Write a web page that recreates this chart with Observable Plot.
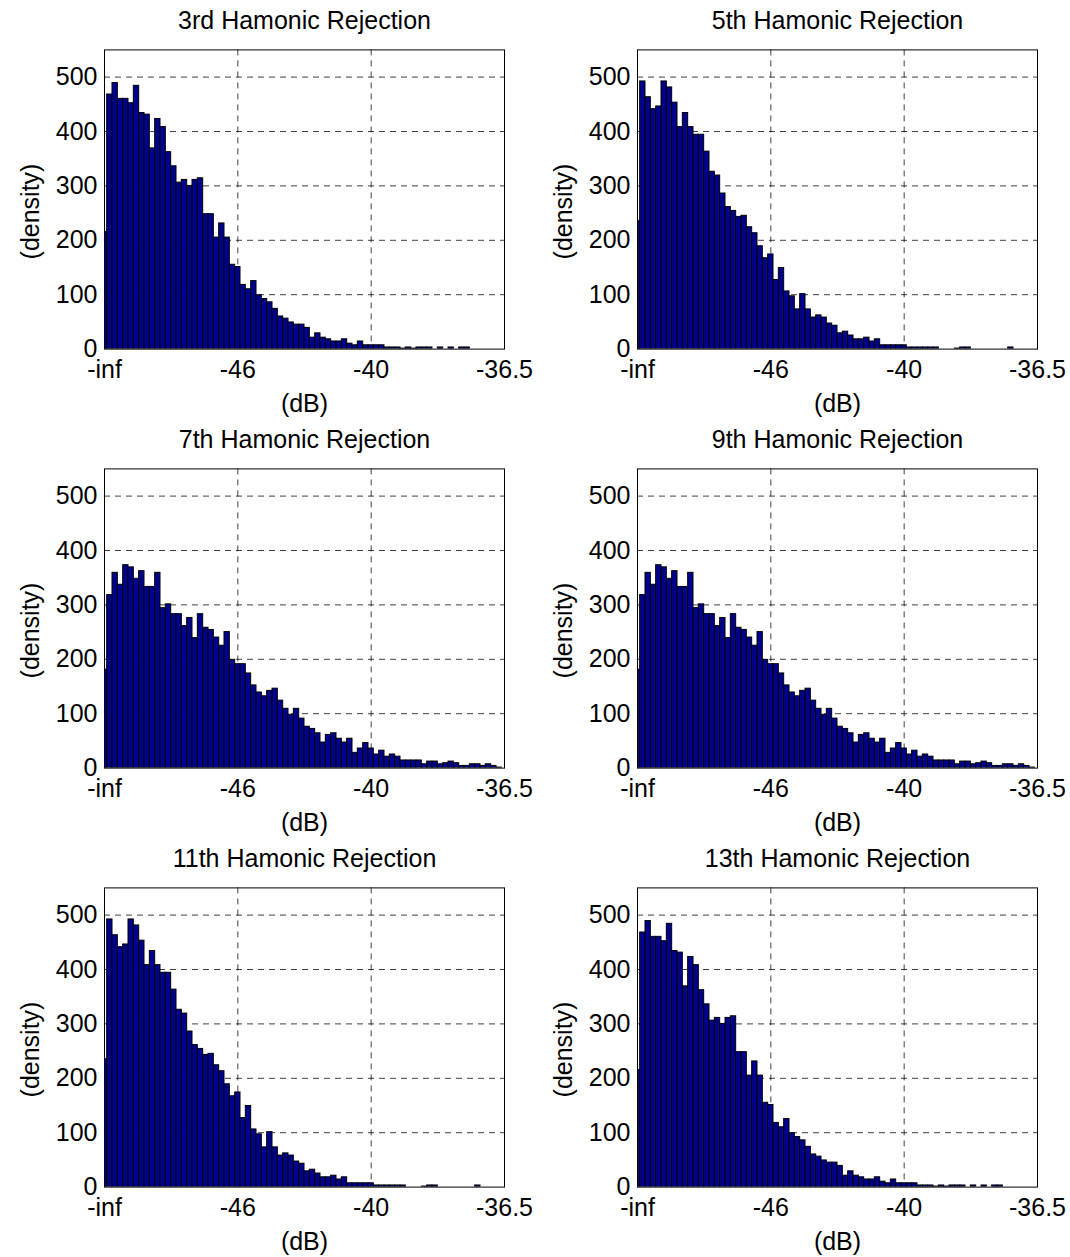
<!DOCTYPE html>
<html><head><meta charset="utf-8">
<script src="https://cdn.jsdelivr.net/npm/d3@7"></script>
<script src="https://cdn.jsdelivr.net/npm/@observablehq/plot@0.6"></script>
<style>
body{margin:0;background:#fff;}
#wrap{position:relative;width:1070px;height:1257px;background:#fff;}
#wrap svg{position:absolute;}
</style></head><body><div id="wrap"></div>
<script>
// Histogram densities per bin (76 bins, bin 0 = -inf ... bin 75 = -36.5 dB)
const harm3 = [215,468,489,460,460,452,484,434,431,369,423,408,362,336,306,311,300,311,314,248,
  248,205,231,205,155,151,118,110,125,99,92,86,74,60,56,49,45,45,39,21,
  29,21,18,14,14,18,10,7,14,7,7,7,7,3,3,3,1,3,1,3,
  3,3,0,3,0,3,0,3,3,0,0,0,0,0,0,0];
const harm5 = [235,492,463,441,446,492,481,453,408,434,408,394,394,363,326,319,286,261,254,243,
  245,224,213,189,167,174,127,149,106,97,73,101,73,58,62,58,47,43,29,32,
  25,18,18,21,14,18,7,7,7,7,7,3,3,3,3,3,3,0,0,0,
  1,3,3,0,0,0,0,0,0,0,3,0,0,0,0,0];
const harm7 = [181,318,359,337,373,369,348,362,333,333,359,294,301,283,283,261,276,239,283,258,
  254,240,225,250,199,191,191,174,152,139,132,142,146,124,109,98,109,91,76,72,
  64,47,61,64,54,47,54,28,36,46,36,25,32,21,25,21,14,14,14,14,
  7,12,12,7,9,12,9,4,4,7,7,4,7,4,1,0];
const harm9 = harm7.slice();
const harm11 = harm5.slice();
const harm13 = harm3.slice();

const titles = ["3rd Hamonic Rejection","5th Hamonic Rejection","7th Hamonic Rejection",
                "9th Hamonic Rejection","11th Hamonic Rejection","13th Hamonic Rejection"];
const series = [harm3, harm5, harm7, harm9, harm11, harm13];
const xTickValues = [0, 25, 50, 75];
const xTickLabels = ["-inf", "-46", "-40", "-36.5"];
const yTicks = [0, 100, 200, 300, 400, 500];
const xLabel = "(dB)";
const yLabel = "(density)";

const wrap = document.getElementById("wrap");
const FONT = "'Liberation Sans', Arial, Helvetica, sans-serif";
const FS = 25;

series.forEach((vals, k) => {
  const col = k % 2, row = Math.floor(k / 2);
  const data = vals.map((v, i) => ({bin: i, v}));
  const chart = Plot.plot({
    width: 535, height: 419,
    marginLeft: 104, marginRight: 31, marginTop: 49.4, marginBottom: 70.4,
    x: {domain: [0, 75], axis: null},
    y: {domain: [0, 550], axis: null},
    style: {fontFamily: FONT, fontSize: FS + "px", background: "transparent", overflow: "visible", color: "black"},
    marks: [
      Plot.gridX([25, 50], {stroke: "black", strokeOpacity: 0.75, strokeDasharray: "6,5"}),
      Plot.gridY(yTicks.slice(1), {stroke: "black", strokeOpacity: 0.75, strokeDasharray: "6,5"}),
      Plot.rect(data, {x1: d => d.bin - 0.5, x2: d => d.bin + 0.5, y1: 0, y2: "v",
        fill: "#00008f", stroke: "black", strokeWidth: 1, clip: true}),
      Plot.frame({stroke: "black", strokeWidth: 1}),
      Plot.axisX(xTickValues, {anchor: "bottom", label: null, tickSize: 0, tickPadding: 11,
        tickFormat: d => xTickLabels[xTickValues.indexOf(d)], fontSize: FS, fill: "black"}),
      Plot.axisY(yTicks, {anchor: "left", label: null, tickSize: 0, tickPadding: 7, fontSize: FS, fill: "black"}),
      Plot.text([titles[k]], {frameAnchor: "top", lineAnchor: "middle", dy: -29, text: d => d, fontSize: FS, fill: "black"}),
      Plot.text([xLabel], {frameAnchor: "bottom", lineAnchor: "middle", dy: 55, text: d => d, fontSize: FS, fill: "black"}),
      Plot.text([yLabel], {frameAnchor: "left", textAnchor: "middle", lineAnchor: "middle", dx: -74, dy: 12, rotate: -90, text: d => d, fontSize: FS, fill: "black"})
    ]
  });
  chart.style.left = (col * 533) + "px";
  chart.style.top = (row * 419) + "px";
  wrap.appendChild(chart);
});
</script>
</body></html>
